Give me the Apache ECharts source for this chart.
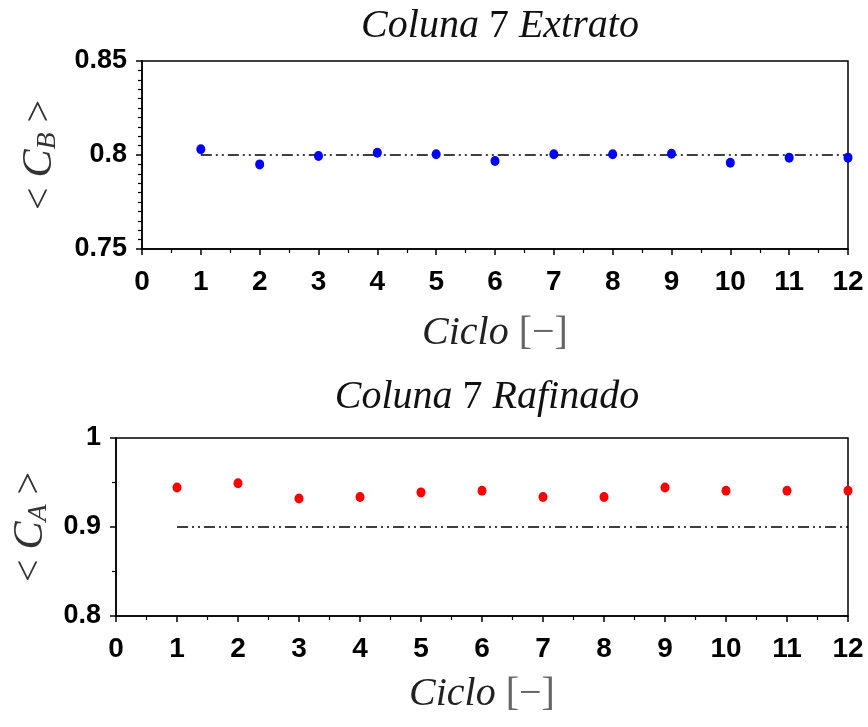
<!DOCTYPE html>
<html>
<head>
<meta charset="utf-8">
<script src="https://cdn.jsdelivr.net/npm/echarts@6/dist/echarts.min.js"></script>
<style>
  html, body { margin: 0; padding: 0; background: #fff; }
  #chart { width: 868px; height: 727px; }
</style>
</head>
<body>
<div id="chart"></div>
<script>
// Cycle numbers on the horizontal axis
const cycles = [1, 2, 3, 4, 5, 6, 7, 8, 9, 10, 11, 12];
// Column 7, extract stream: mean concentration <C_B> per cycle
const extratoCB = [0.8031, 0.7950, 0.7995, 0.8012, 0.8004, 0.7968, 0.8004, 0.8004, 0.8007, 0.7959, 0.7986, 0.7986];
// Column 7, raffinate stream: mean concentration <C_A> per cycle
const rafinadoCA = [0.9444, 0.9492, 0.9320, 0.9337, 0.9389, 0.9407, 0.9337, 0.9337, 0.9444, 0.9407, 0.9407, 0.9407];
// Target purity lines and the cycle span they cover
const extratoTarget = 0.8;
const rafinadoTarget = 0.9;
const targetSpan = [1, 12];

const titles = ['Coluna 7 Extrato', 'Coluna 7 Rafinado'];

const serif = '"Liberation Serif", "DejaVu Serif", serif';
const sans = '"Liberation Sans", Arial, sans-serif';

const pairs = (xs, ys) => xs.map((x, i) => [x, ys[i]]);
const targetLine = v => targetSpan.map(x => [x, v]);

function titleRich(t) {
  const parts = t.split(' 7 ');
  return '{i|' + parts[0] + ' }{n|7}{i| ' + parts[1] + '}';
}

const titleStyle = {
  fontWeight: 'normal',
  rich: {
    i: { fontFamily: serif, fontStyle: 'italic', fontWeight: 'normal', fontSize: 40, color: '#111' },
    n: { fontFamily: serif, fontStyle: 'normal', fontWeight: 'normal', fontSize: 40, color: '#111' }
  }
};

const xName = '{i|Ciclo }{b|[\u2212]}';
const xNameStyle = {
  rich: {
    i: { fontFamily: serif, fontStyle: 'italic', fontSize: 40, color: '#222' },
    b: { fontFamily: serif, fontStyle: 'normal', fontSize: 40, color: '#666' }
  }
};

function yName(sub) {
  return '{r|< }{c|C}{s|' + sub + '}{r| >}';
}
const yNameStyle = {
  rich: {
    r: { fontFamily: serif, fontStyle: 'normal', fontSize: 40, color: '#333', lineHeight: 44, verticalAlign: 'middle' },
    c: { fontFamily: serif, fontStyle: 'italic', fontSize: 42, color: '#333', lineHeight: 44, verticalAlign: 'middle' },
    s: { fontFamily: serif, fontStyle: 'italic', fontSize: 28, color: '#333', lineHeight: 24, verticalAlign: 'bottom' }
  }
};

const axisLineStyle = { lineStyle: { color: '#000', width: 1.5 } };

function xAxisFor(gridIndex, gap) {
  return {
    type: 'value', gridIndex, min: 0, max: 12, interval: 1,
    name: xName, nameLocation: 'middle', nameGap: gap, nameTextStyle: xNameStyle,
    axisLine: axisLineStyle,
    axisTick: { show: true, length: 6, lineStyle: { color: '#000', width: 1.5 } },
    minorTick: { show: true, splitNumber: 2, length: 4, lineStyle: { color: '#000', width: 1.2 } },
    splitLine: { show: false },
    axisLabel: { color: '#000', fontFamily: sans, fontWeight: 'bold', fontSize: 28, margin: 19 }
  };
}

function yAxisFor(gridIndex, min, max, interval, minorSplit, sub, gap) {
  return {
    type: 'value', gridIndex, min, max, interval,
    name: yName(sub), nameLocation: 'middle', nameRotate: 90, nameGap: gap, nameTextStyle: yNameStyle,
    axisLine: axisLineStyle,
    axisTick: { show: true, length: 6, lineStyle: { color: '#000', width: 1.5 } },
    minorTick: { show: true, splitNumber: minorSplit, length: 4, lineStyle: { color: '#000', width: 1.2 } },
    splitLine: { show: false },
    axisLabel: { color: '#000', fontFamily: sans, fontWeight: 'bold', fontSize: 27, margin: 15 }
  };
}

const dashDotDot = [11, 4, 2, 4, 2, 4];

const chart = echarts.init(document.getElementById('chart'), null, { renderer: 'canvas' });
chart.setOption({
  animation: false,
  backgroundColor: '#fff',
  title: [
    { text: titleRich(titles[0]), left: 495, top: 1, textAlign: 'center', textStyle: titleStyle },
    { text: titleRich(titles[1]), left: 482, top: 372, textAlign: 'center', textStyle: titleStyle }
  ],
  grid: [
    { left: 142, top: 61, right: 20, height: 188, show: true, borderColor: '#000', borderWidth: 1.5, backgroundColor: 'transparent', containLabel: false, outerBoundsMode: 'none' },
    { left: 116, top: 438, right: 20, height: 178, show: true, borderColor: '#000', borderWidth: 1.5, backgroundColor: 'transparent', containLabel: false, outerBoundsMode: 'none' }
  ],
  xAxis: [xAxisFor(0, 64), xAxisFor(1, 58)],
  yAxis: [
    yAxisFor(0, 0.75, 0.85, 0.05, 10, 'B', 80),
    yAxisFor(1, 0.8, 1.0, 0.1, 2, 'A', 62)
  ],
  series: [
    {
      type: 'line', xAxisIndex: 0, yAxisIndex: 0, data: targetLine(extratoTarget),
      symbol: 'none', lineStyle: { color: '#000', width: 1.5, type: dashDotDot }, z: 2
    },
    {
      type: 'scatter', xAxisIndex: 0, yAxisIndex: 0, data: pairs(cycles, extratoCB),
      symbol: 'circle', symbolSize: [9, 10], itemStyle: { color: '#0000ff', opacity: 1 }, clip: false, z: 3
    },
    {
      type: 'line', xAxisIndex: 1, yAxisIndex: 1, data: targetLine(rafinadoTarget),
      symbol: 'none', lineStyle: { color: '#000', width: 1.5, type: dashDotDot }, z: 2
    },
    {
      type: 'scatter', xAxisIndex: 1, yAxisIndex: 1, data: pairs(cycles, rafinadoCA),
      symbol: 'circle', symbolSize: [9, 10], itemStyle: { color: '#ff0000', opacity: 1 }, clip: false, z: 3
    }
  ]
});
</script>
</body>
</html>
